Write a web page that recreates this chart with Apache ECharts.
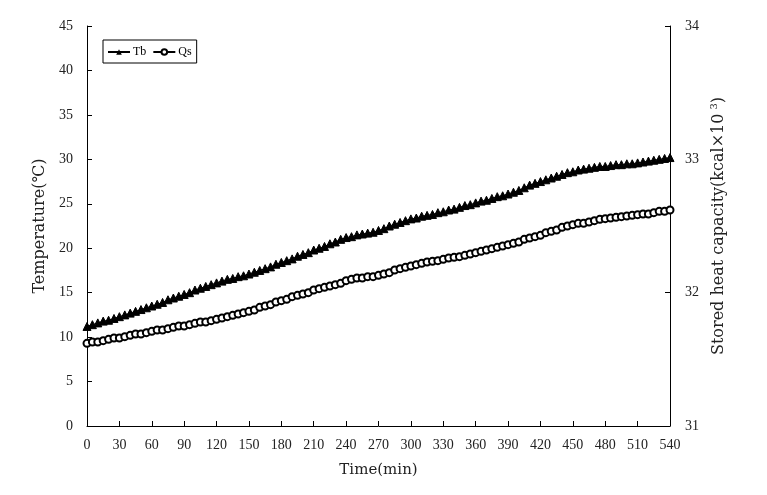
<!DOCTYPE html>
<html>
<head>
<meta charset="utf-8">
<script src="https://cdn.jsdelivr.net/npm/echarts@6/dist/echarts.min.js"></script>
<style>html,body{margin:0;padding:0;background:#fff;}#c{width:767px;height:495px;}</style>
</head>
<body>
<div id="c"></div>
<script>
var times = [0,5,10,15,20,25,30,35,40,45,50,55,60,65,70,75,80,85,90,95,100,105,110,115,120,125,130,135,140,145,150,155,160,165,170,175,180,185,190,195,200,205,210,215,220,225,230,235,240,245,250,255,260,265,270,275,280,285,290,295,300,305,310,315,320,325,330,335,340,345,350,355,360,365,370,375,380,385,390,395,400,405,410,415,420,425,430,435,440,445,450,455,460,465,470,475,480,485,490,495,500,505,510,515,520,525,530,535,540];
var tb = [11.2,11.4,11.6,11.8,11.9,12.1,12.3,12.5,12.7,12.9,13.1,13.3,
13.5,13.7,13.9,14.2,14.4,14.6,14.8,15.0,15.3,15.5,15.7,15.9,
16.1,16.3,16.5,16.6,16.8,16.9,17.1,17.3,17.5,17.7,17.9,18.2,
18.4,18.6,18.8,19.1,19.3,19.5,19.8,20.0,20.2,20.5,20.7,21.0,
21.2,21.3,21.5,21.6,21.7,21.8,22.0,22.2,22.5,22.7,22.9,23.1,
23.3,23.4,23.6,23.7,23.8,24.0,24.1,24.3,24.4,24.6,24.8,24.9,
25.1,25.3,25.4,25.6,25.8,25.9,26.1,26.3,26.5,26.8,27.1,27.3,
27.5,27.7,27.9,28.1,28.3,28.5,28.6,28.8,28.9,29.0,29.1,29.2,
29.2,29.3,29.4,29.4,29.5,29.5,29.6,29.7,29.8,29.9,30.0,30.1,
30.2];
var qs = [31.62,31.63,31.63,31.64,31.65,31.66,31.66,31.67,31.68,31.69,31.69,31.70,
31.71,31.72,31.72,31.73,31.74,31.75,31.75,31.76,31.77,31.78,31.78,31.79,
31.80,31.81,31.82,31.83,31.84,31.85,31.86,31.87,31.89,31.90,31.91,31.93,
31.94,31.95,31.97,31.98,31.99,32.00,32.02,32.03,32.04,32.05,32.06,32.07,
32.09,32.10,32.11,32.11,32.12,32.12,32.13,32.14,32.15,32.17,32.18,32.19,
32.20,32.21,32.22,32.23,32.235,32.24,32.25,32.26,32.265,32.27,32.28,32.29,
32.30,32.31,32.32,32.33,32.34,32.35,32.36,32.37,32.38,32.40,32.41,32.42,
32.43,32.45,32.46,32.47,32.49,32.50,32.51,32.52,32.52,32.53,32.54,32.55,
32.555,32.56,32.565,32.57,32.575,32.58,32.585,32.59,32.59,32.60,32.61,32.61,
32.62];
var seriesNames = ['Tb', 'Qs'];
var xTitle = 'Time(min)';
var yLeftTitle = 'Temperature(℃)';
var yRightTitle = 'Stored heat capacity(kcal×10{sup|3})';

function pairs(vals){ return vals.map(function(v,i){ return [times[i], v]; }); }

var font = 'Liberation Serif';
var tfont = 'DejaVu Serif';
var txt = '#222';
var chart = echarts.init(document.getElementById('c'), null, {renderer:'canvas'});
chart.setOption({
  animation: false,
  backgroundColor: '#fff',
  textStyle: {fontFamily: font, color: txt},
  grid: {left: 87, right: 97, top: 26, bottom: 69, containLabel: false},
  legend: {
    left: 103, top: 40, padding: [6, 5, 5, 4],
    borderColor: '#000', borderWidth: 1,
    itemWidth: 22, itemHeight: 7, itemGap: 6,
    textStyle: {fontFamily: font, fontSize: 12, color: '#000', padding: [0,0,0,-2]},
    data: [seriesNames[0], seriesNames[1]]
  },
  xAxis: {
    type: 'value', min: 0, max: 540, interval: 30,
    name: xTitle, nameLocation: 'middle', nameGap: 37,
    nameTextStyle: {fontFamily: tfont, fontSize: 15, color: txt},
    axisLine: {lineStyle: {color: '#000', width: 1}},
    axisTick: {inside: true, length: 5, lineStyle: {color: '#000'}},
    axisLabel: {fontFamily: font, fontSize: 14, color: txt, margin: 12},
    splitLine: {show: false}
  },
  yAxis: [{
    type: 'value', min: 0, max: 45, interval: 5, position: 'left',
    name: yLeftTitle, nameLocation: 'middle', nameGap: 38, nameRotate: 90,
    nameTextStyle: {fontFamily: tfont, fontSize: 16, color: txt},
    axisLine: {show: true, lineStyle: {color: '#000', width: 1}},
    axisTick: {show: true, inside: true, length: 5, lineStyle: {color: '#000'}},
    axisLabel: {fontFamily: font, fontSize: 14, color: txt, margin: 14},
    splitLine: {show: false}
  }, {
    type: 'value', min: 31, max: 34, interval: 1, position: 'right',
    name: yRightTitle, nameLocation: 'middle', nameGap: 34, nameRotate: 90,
    nameTextStyle: {fontFamily: tfont, fontSize: 16, color: txt,
      rich: {sup: {fontFamily: tfont, fontSize: 10, color: txt, verticalAlign: 'top', padding: [0,0,8,4]}}},
    axisLine: {show: true, lineStyle: {color: '#000', width: 1}},
    axisTick: {show: true, inside: true, length: 5, lineStyle: {color: '#000'}},
    axisLabel: {fontFamily: font, fontSize: 14, color: txt, margin: 15},
    splitLine: {show: false}
  }],
  series: [{
    name: seriesNames[0], type: 'line', yAxisIndex: 0,
    data: pairs(tb),
    symbol: 'triangle', symbolSize: 8, showAllSymbol: true,
    lineStyle: {color: '#000', width: 1},
    itemStyle: {color: '#000', borderColor: '#000'}
  }, {
    name: seriesNames[1], type: 'line', yAxisIndex: 1,
    data: pairs(qs),
    symbol: 'emptyCircle', symbolSize: 7, showAllSymbol: true,
    lineStyle: {color: '#000', width: 0.8},
    itemStyle: {color: '#000', borderColor: '#000', borderWidth: 0.8}
  }]
});
</script>
</body>
</html>
